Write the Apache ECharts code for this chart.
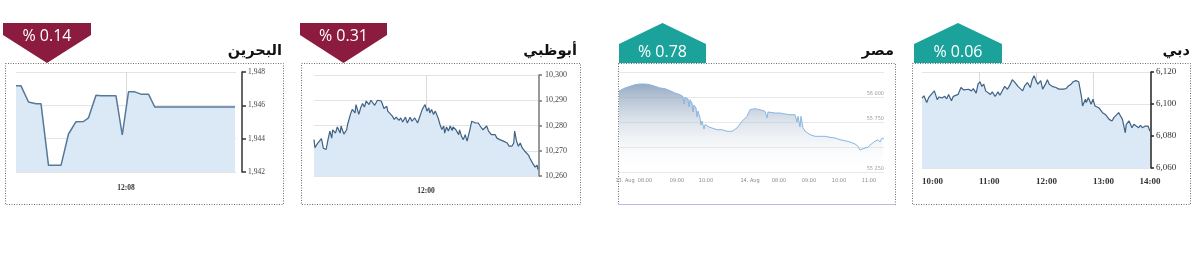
<!DOCTYPE html>
<html>
<head>
<meta charset="utf-8">
<script src="https://cdn.jsdelivr.net/npm/echarts/dist/echarts.min.js"></script>
<style>
html,body{margin:0;padding:0;background:#fff;}
#chart{width:1200px;height:265px;}
</style>
</head>
<body>
<div id="chart"></div>
<script>
// ---------- Titles & badges ----------
const panelTitles = ['البحرين', 'أبوظبي', 'مصر', 'دبي'];
const panelChanges = ['% 0.14', '% 0.31', '% 0.78', '% 0.06'];

// ---------- Bahrain (minutes since midnight) ----------
const bhTimes = [684, 686, 689, 692, 694, 697, 702, 705, 708, 711, 713, 716, 718, 724, 726.5, 729, 731.5, 734, 737, 739.5, 771.6];
const bhValues = [1947.17, 1947.17, 1946.2, 1946.1, 1946.1, 1942.4, 1942.4, 1944.28, 1945.02, 1945.03, 1945.25, 1946.6, 1946.57, 1946.57, 1944.22, 1946.81, 1946.81, 1946.67, 1946.67, 1945.9, 1945.9];
const bhTickTimes = [728];

// ---------- Abu Dhabi ----------
const adTimes = [600,601,604,608,610,613,615,617,619,620,623,625,628,629,632,635,636,639,641,644,645,648,650,652,654,656,659,661,663,665,668,670,672,675,678,679,681,684,686,688,691,693,695,698,700,703,705,708,711,713,716,719,721,723,724,726,728,730,731,733,735,737,739,740,742,744,746,748,749,752,755,756,758,760,762,764,765,767,769,771,773,774,776,778,780,781,783,785,787,789,790,792,794,796,798,799,801,803,805,807,809,812,814,815,817,819,821,823,824,826,828,830,831,833,835,837,839,840];
const adValues = [10274.4,10271.2,10273,10274.8,10271,10270.5,10274.4,10277.8,10275,10278.3,10277,10279.4,10277,10279.8,10276.6,10278.3,10280.4,10284.4,10286.4,10285,10288.3,10284.4,10287,10288.7,10287.3,10289.7,10288.3,10290,10290.3,10288,10290,10290.3,10289.7,10286.7,10287.6,10285.7,10286.3,10283.7,10282.4,10283.3,10282,10283,10281.4,10283.3,10281,10283.3,10281.7,10283,10281,10280.4,10286.4,10288.3,10285.7,10287,10285,10286.3,10284.4,10285.7,10285,10283,10280.4,10278.4,10279.8,10277,10279.4,10277.8,10279.8,10278,10279.4,10278.3,10276.4,10278.3,10275.7,10274.4,10276.4,10273.8,10273.1,10278.3,10281.7,10282.3,10281,10280.4,10281,10279.8,10280.4,10278.3,10279,10279.8,10277.8,10278.3,10276.4,10275.7,10276.4,10275,10275.7,10274.4,10275,10273.8,10274.4,10273.1,10271.8,10271.8,10273.1,10277.8,10273.8,10271.8,10273.1,10271.2,10271.8,10269.8,10269.1,10268.2,10267.2,10266.6,10264.6,10263.5,10264.3,10262.5];
const adTickTimes = [720];

// ---------- Egypt (compressed trading minutes, two sessions) ----------
const egX = [0,2,12,22,32,42,52,62,72,82,92,102,112,122,128,130,132,138,140,142,146,148,150,154,156,158,162,164,166,168,170,172,176,180,186,196,206,216,226,236,246,256,262,266,272,282,292,296,298,302,312,322,332,342,352,356,358,362,364,368,372,376,382,392,402,412,422,432,442,452,462,472,478,482,486,492,498,502,506,512,518,522,526,530];
const egValues = [56060,56070,56090,56107,56123,56130,56130,56123,56107,56090,56083,56063,56040,56023,56005,55930,55997,55980,55900,55973,55940,55850,55920,55890,55800,55860,55790,55720,55760,55740,55680,55725,55707,55700,55690,55673,55673,55657,55657,55690,55757,55807,55873,55890,55883,55873,55857,55790,55850,55840,55840,55840,55830,55823,55823,55750,55807,55700,55807,55690,55660,55640,55623,55607,55607,55607,55597,55590,55573,55563,55550,55530,55507,55470,55473,55490,55497,55520,55540,55557,55573,55550,55590,55580];
const egTickPos = [12, 52, 116, 174, 262, 320, 380, 440, 500];
const egTickLabels = ['13. Aug', '08:00', '09:00', '10:00', '14. Aug', '08:00', '09:00', '10:00', '11:00'];
const egYLabels = {56000: '56 000', 55750: '55 750', 55250: '55 250'};

// ---------- Dubai ----------
const dbTimes = [600,602,605,607,610,613,616,618,621,624,626,628,631,633,635,638,641,644,646,649,652,654,657,659,661,663,665,667,669,672,674,677,680,682,685,687,690,693,695,698,701,703,706,708,711,714,716,718,720,722,725,727,730,732,734,737,739,741,744,746,749,752,754,757,759,762,765,766,768,769,772,773,775,778,780,782,784,786,787,790,793,795,797,800,802,804,807,809,811,814,815,818,821,823,825,828,830,832,835,837,838,840];
const dbValues = [6103.6,6105.1,6100.9,6104,6106.2,6108.2,6102.7,6104.4,6103.8,6104.8,6103.2,6106,6102,6104.8,6103.8,6106,6110.3,6108.8,6109.6,6109.2,6108.2,6109.6,6106.8,6112.4,6113.9,6111,6112.4,6108.2,6109.2,6106,6107.6,6104.7,6107.6,6105.5,6108.8,6111,6109.2,6112.4,6115.2,6113.4,6111,6111.7,6108.2,6111.3,6113.4,6110.3,6115.2,6117.7,6114.6,6112.4,6114.6,6109.3,6112.4,6115.2,6112.4,6111,6111.7,6110.3,6109.3,6108.2,6109.3,6109.7,6111.3,6112.4,6113.9,6114.6,6113.9,6113.4,6104,6098.8,6103,6100.9,6104,6099.8,6103,6098.8,6099.8,6097.7,6096.7,6094.6,6093.5,6092.5,6090.4,6089.4,6091.5,6092.5,6094.6,6092.5,6090.4,6082,6087.3,6089.4,6085.2,6087.3,6086.2,6085.2,6086.6,6085.2,6086.2,6087.3,6086.2,6083];

// ---------- helpers ----------
const pair = (xs, ys) => xs.map((x, i) => [x, ys[i]]);
const hhmm = m => String(Math.floor(m / 60)).padStart(2, '0') + ':' + String(Math.round(m % 60)).padStart(2, '0');
const thousands = v => v.toLocaleString('en-US');

const SERIF = '"Liberation Serif", "DejaVu Serif", serif';
const NARROW = '"DejaVu Sans Condensed", "Liberation Sans Narrow", "Roboto", sans-serif';
const gridColor = '#e4e4e4';
const areaBlue = '#dbe9f6';

const chart = echarts.init(document.getElementById('chart'), null, {renderer: 'canvas'});

const badgeFont = '16px "Open Sans", sans-serif';
function badgeDown(x0, x1, color, text) {
  const cx = (x0 + x1) / 2;
  return [
    {type: 'polygon', z: 10, shape: {points: [[x0, 23], [x1, 23], [x1, 35], [cx, 63], [x0, 35]]}, style: {fill: color}},
    {type: 'text', z: 11, style: {text: text, x: cx, y: 36, align: 'center', verticalAlign: 'middle', textAlign: 'center', textVerticalAlign: 'middle', fill: '#fff', font: badgeFont}}
  ];
}
function badgeUp(x0, x1, color, text) {
  const cx = (x0 + x1) / 2;
  return [
    {type: 'polygon', z: 10, shape: {points: [[x0, 44], [cx, 23], [x1, 44], [x1, 63], [x0, 63]]}, style: {fill: color}},
    {type: 'text', z: 11, style: {text: text, x: cx, y: 52, align: 'center', verticalAlign: 'middle', textAlign: 'center', textVerticalAlign: 'middle', fill: '#fff', font: badgeFont}}
  ];
}
function border(x0, x1) {
  return {type: 'rect', z: 1, shape: {x: x0 + 0.5, y: 63.5, width: x1 - x0, height: 141}, style: {fill: 'none', stroke: '#6e6e6e', lineWidth: 1, lineDash: [1, 1.5]}};
}
function title(xRight, text) {
  return {type: 'text', z: 11, style: {text: text, x: xRight, y: 51, align: 'right', verticalAlign: 'middle', textAlign: 'right', textVerticalAlign: 'middle', fill: '#111', font: 'bold 14.5px "DejaVu Sans", sans-serif'}};
}

const maroon = '#8b1c40';
const teal = '#1ba39b';

const graphic = [
  border(5, 283), border(301, 580), border(618, 895), border(912, 1190),
  {type: 'line', z: 2, shape: {x1: 618, y1: 204.5, x2: 895, y2: 204.5}, style: {stroke: '#b9bde6', lineWidth: 1}},
  ...badgeDown(3, 91, maroon, panelChanges[0]),
  ...badgeDown(300, 387, maroon, panelChanges[1]),
  ...badgeUp(619, 706, teal, panelChanges[2]),
  ...badgeUp(914, 1002, teal, panelChanges[3]),
  title(282, panelTitles[0]),
  title(577, panelTitles[1]),
  title(894, panelTitles[2]),
  title(1190, panelTitles[3])
];

const option = {
  animation: false,
  backgroundColor: '#ffffff',
  graphic: graphic,
  grid: [
    {left: 16, top: 72, width: 220, height: 100, containLabel: false, outerBoundsMode: 'none'},
    {left: 314, top: 75, width: 224, height: 101, containLabel: false, outerBoundsMode: 'none'},
    {left: 619, top: 72, width: 265, height: 100, containLabel: false, outerBoundsMode: 'none'},
    {left: 922, top: 72, width: 228, height: 96, containLabel: false, outerBoundsMode: 'none'}
  ],
  xAxis: [
    {gridIndex: 0, type: 'value', min: 684, max: 772,
      axisLine: {show: false}, axisTick: {show: false, customValues: bhTickTimes},
      axisLabel: {customValues: bhTickTimes, formatter: hhmm, margin: 12, fontFamily: SERIF, fontSize: 7.5, fontWeight: 'bold', color: '#333'},
      splitLine: {show: true, lineStyle: {color: '#dadada'}}},
    {gridIndex: 1, type: 'value', min: 600, max: 840,
      axisLine: {show: false}, axisTick: {show: false, customValues: adTickTimes},
      axisLabel: {customValues: adTickTimes, formatter: hhmm, margin: 11, fontFamily: SERIF, fontSize: 7.5, fontWeight: 'bold', color: '#333'},
      splitLine: {show: true, lineStyle: {color: '#dadada'}}},
    {gridIndex: 2, type: 'value', min: 0, max: 530,
      axisLine: {show: false}, axisTick: {show: false, customValues: egTickPos},
      axisLabel: {customValues: egTickPos, formatter: v => egTickLabels[egTickPos.indexOf(v)] || '', margin: 6,
        fontFamily: NARROW, fontSize: 5.5, color: '#8a8a8a'},
      splitLine: {show: false}},
    {gridIndex: 3, type: 'value', min: 600, max: 840, interval: 60,
      axisLine: {show: false}, axisTick: {show: false},
      axisLabel: {formatter: hhmm, margin: 9, align: 'left', alignMaxLabel: 'center', fontFamily: SERIF, fontSize: 9, fontWeight: 'bold', color: '#333'},
      splitLine: {show: true, showMinLine: false, showMaxLine: false, lineStyle: {color: '#dadada'}}}
  ],
  yAxis: [
    {gridIndex: 0, type: 'value', position: 'right', offset: 6, min: 1942, max: 1948, interval: 2,
      axisLine: {show: true, lineStyle: {color: '#333', width: 1.5}},
      axisTick: {show: true, length: 4, lineStyle: {color: '#333', width: 1.5}},
      axisLabel: {formatter: thousands, margin: 6, fontFamily: SERIF, fontSize: 7.5, color: '#444'},
      splitLine: {show: true, lineStyle: {color: gridColor}}},
    {gridIndex: 1, type: 'value', position: 'right', offset: 1, min: 10260, max: 10300, interval: 10,
      axisLine: {show: true, lineStyle: {color: '#777', width: 1.5}},
      axisTick: {show: true, length: 3, lineStyle: {color: '#777', width: 1.5}},
      axisLabel: {formatter: thousands, margin: 6, fontFamily: SERIF, fontSize: 8, color: '#444'},
      splitLine: {show: true, lineStyle: {color: gridColor}}},
    {gridIndex: 2, type: 'value', position: 'right', min: 55250, max: 56250, interval: 250,
      axisLine: {show: false}, axisTick: {show: false},
      axisLabel: {inside: true, margin: 0, verticalAlign: 'bottom', formatter: v => egYLabels[v] || '',
        fontFamily: NARROW, fontSize: 5.5, color: '#9a9a9a'},
      splitLine: {show: true, lineStyle: {color: '#e8e8e8'}}},
    {gridIndex: 3, type: 'value', position: 'right', offset: 1, min: 6060, max: 6120, interval: 20,
      axisLine: {show: true, lineStyle: {color: '#222', width: 1.5}},
      axisTick: {show: true, length: 3, lineStyle: {color: '#222', width: 1.5}},
      axisLabel: {formatter: thousands, margin: 5, fontFamily: SERIF, fontSize: 9, color: '#333'},
      splitLine: {show: true, lineStyle: {color: gridColor}}}
  ],
  series: [
    {type: 'line', xAxisIndex: 0, yAxisIndex: 0, data: pair(bhTimes, bhValues), symbol: 'none',
      lineStyle: {color: '#56789a', width: 1.5}, areaStyle: {color: areaBlue, origin: 'start', opacity: 1}},
    {type: 'line', xAxisIndex: 1, yAxisIndex: 1, data: pair(adTimes, adValues), symbol: 'none',
      lineStyle: {color: '#3f6184', width: 1.2}, areaStyle: {color: areaBlue, origin: 'start', opacity: 1}},
    {type: 'line', xAxisIndex: 2, yAxisIndex: 2, data: pair(egX, egValues), symbol: 'none',
      lineStyle: {color: '#8ab6e0', width: 1},
      areaStyle: {origin: 'start', opacity: 1, color: new echarts.graphic.LinearGradient(0, 0, 0, 1, [
        {offset: 0, color: 'rgba(125,150,180,0.8)'},
        {offset: 1, color: 'rgba(255,255,255,0)'}
      ])}},
    {type: 'line', xAxisIndex: 3, yAxisIndex: 3, data: pair(dbTimes, dbValues), symbol: 'none',
      lineStyle: {color: '#3f6184', width: 1.2}, areaStyle: {color: areaBlue, origin: 'start', opacity: 1}}
  ]
};
chart.setOption(option);
</script>
</body>
</html>
